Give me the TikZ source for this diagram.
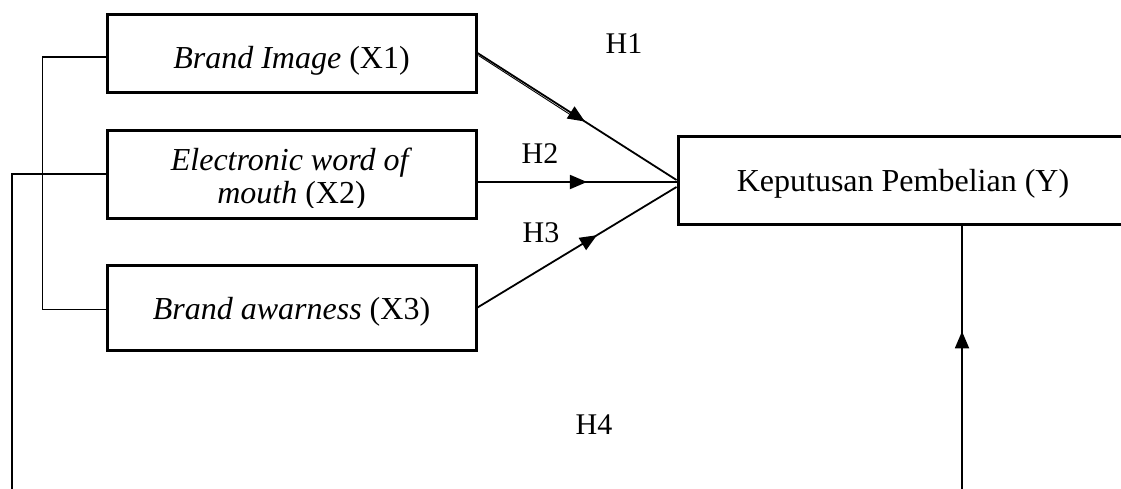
\documentclass[tikz,border=0pt]{standalone}
\usepackage{fontspec}
\setmainfont{Liberation Serif}
\usetikzlibrary{arrows.meta,decorations.markings,calc}
\begin{document}
\begin{tikzpicture}[x=1pt,y=-1pt,
  box/.style={draw, line width=3pt, inner sep=0pt, anchor=base, font=\fontsize{32}{33}\selectfont},
  conn/.style={line width=1.8pt},
  thinline/.style={line width=1.1pt},
  midarrow/.style={postaction={decorate}, decoration={markings, mark=at position #1 with {\arrow{Triangle[length=17pt,width=14pt]}}}},
  hlbl/.style={anchor=base, inner sep=0pt, font=\fontsize{30}{31}\selectfont},
  txt/.style={anchor=base, inner sep=0pt, font=\fontsize{32}{33}\selectfont}
]
\clip (0,0) rectangle (1121,488);
\path[use as bounding box] (0,0) rectangle (1121,488);

% boxes
\node[box, minimum width=369pt, text height=54pt, text depth=24pt] (bx1) at (291.5,68) {\textit{Brand Image} (X1)};
\node[draw, line width=3pt, inner sep=0pt, minimum width=369pt, minimum height=88pt] (bx2) at (291.5,174) {};
\begin{scope}
  \clip (100,120) rectangle (480,207);
  \node[txt, align=center] (tx2) at (291.5,203) {\textit{Electronic word of}\\[0pt]\textit{mouth} (X2)};
\end{scope}
\node[box, minimum width=369pt, text height=54pt, text depth=31pt] (bx3) at (291.5,319) {\textit{Brand awarness} (X3)};
\node[box, minimum width=450pt, text height=55pt, text depth=33pt] (by) at (903,191) {Keputusan Pembelian (Y)};

% labels
\node[hlbl] (h1) at (624,53) {H1};
\node[hlbl] (h2) at (540,163) {H2};
\node[hlbl] (h3) at (541,242) {H3};
\node[hlbl] (h4) at (594,434) {H4};

% connectors
\draw[conn, midarrow=0.54] (bx1.east) -- (by.west);
\draw[line width=0.9pt] ($(bx1.east)+(1,2.5)$) -- ($(bx1.east)!0.5!(by.west)+(0,2.5)$);
\draw[conn, midarrow=0.55] ([yshift=-8pt]bx2.east) -- ([yshift=-2pt]by.west);
\draw[conn, midarrow=0.60] (bx3.east) -- ([yshift=-7pt]by.west);

\coordinate (ybot) at (962,490);
\draw[conn, midarrow=0.60] (ybot) -- (ybot |- by.south);

\coordinate (lbot) at (12,490);
\draw[conn] (lbot) |- (bx2.west);

\draw[thinline] ([yshift=-4pt]bx1.west) -- ++(-63,0) |- ([yshift=-2pt]bx3.west);
\end{tikzpicture}
\end{document}
